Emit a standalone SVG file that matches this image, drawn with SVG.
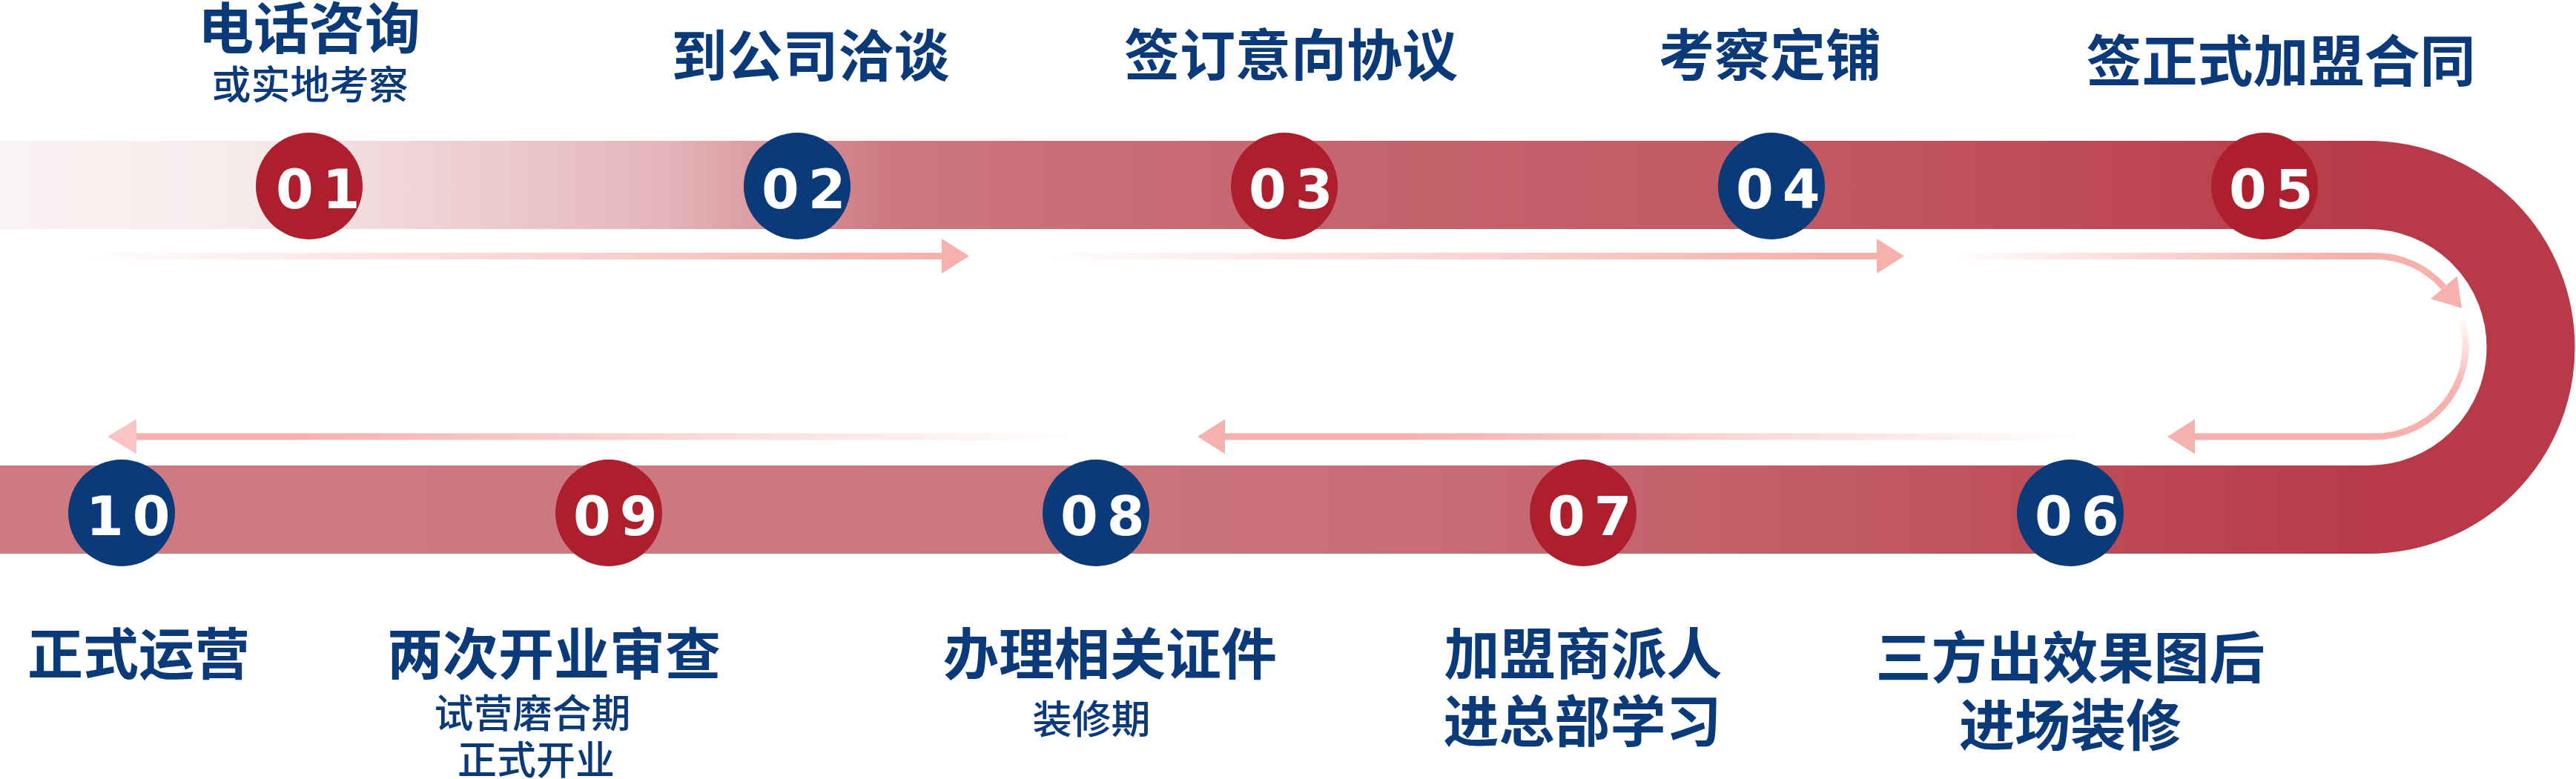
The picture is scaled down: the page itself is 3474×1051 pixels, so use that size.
<svg xmlns="http://www.w3.org/2000/svg" width="3474" height="1051" viewBox="0 0 3474 1051">
<defs>
<style>
.t{font-family:"Noto Sans CJK SC","Noto Sans CJK JP",sans-serif;font-weight:700;font-size:75px;fill:#0a3a7a;text-anchor:middle}
.s{font-family:"Noto Sans CJK SC","Noto Sans CJK JP",sans-serif;font-weight:500;font-size:53px;fill:#0a3a7a;text-anchor:middle}
.n{font-family:"DejaVu Sans",sans-serif;font-weight:700;font-size:73px;fill:#ffffff;letter-spacing:12px}
.red{fill:#ae1f2d}
.blue{fill:#0a3a7a}
.ar{fill:none;stroke-width:9}
</style>
<linearGradient id="bandTop" gradientUnits="userSpaceOnUse" x1="0" y1="0" x2="3200" y2="0">
<stop offset="0" stop-color="#faf3f3"/>
<stop offset="0.1" stop-color="#f7ebec"/>
<stop offset="0.28" stop-color="#e4b5b9"/>
<stop offset="0.375" stop-color="#cd787f"/>
<stop offset="0.45" stop-color="#c96e77"/>
<stop offset="0.6" stop-color="#c4626c"/>
<stop offset="0.75" stop-color="#c15a65"/>
<stop offset="0.9" stop-color="#bc4854"/>
<stop offset="1" stop-color="#b83a48"/>
</linearGradient>
<linearGradient id="bandBot" gradientUnits="userSpaceOnUse" x1="0" y1="0" x2="3200" y2="0">
<stop offset="0" stop-color="#cd7a80"/>
<stop offset="0.42" stop-color="#cc777e"/>
<stop offset="0.6" stop-color="#c86d76"/>
<stop offset="0.78" stop-color="#c15a64"/>
<stop offset="1" stop-color="#b83a48"/>
</linearGradient>
<linearGradient id="a1" gradientUnits="userSpaceOnUse" x1="100" y1="0" x2="1250" y2="0">
<stop offset="0" stop-color="#f7b1ad" stop-opacity="0"/>
<stop offset="1" stop-color="#f7b1ad" stop-opacity="1"/>
</linearGradient>
<linearGradient id="a2" gradientUnits="userSpaceOnUse" x1="1400" y1="0" x2="2450" y2="0">
<stop offset="0" stop-color="#f7b1ad" stop-opacity="0"/>
<stop offset="1" stop-color="#f7b1ad" stop-opacity="1"/>
</linearGradient>
<linearGradient id="a3" gradientUnits="userSpaceOnUse" x1="2630" y1="0" x2="3150" y2="0">
<stop offset="0" stop-color="#f7b1ad" stop-opacity="0"/>
<stop offset="1" stop-color="#f7b1ad" stop-opacity="1"/>
</linearGradient>
<linearGradient id="a4" gradientUnits="userSpaceOnUse" x1="0" y1="427" x2="0" y2="525">
<stop offset="0" stop-color="#f7b1ad" stop-opacity="0"/>
<stop offset="1" stop-color="#f7b1ad" stop-opacity="1"/>
</linearGradient>
<linearGradient id="a5" gradientUnits="userSpaceOnUse" x1="2810" y1="0" x2="1900" y2="0">
<stop offset="0" stop-color="#f7b1ad" stop-opacity="0"/>
<stop offset="1" stop-color="#f7b1ad" stop-opacity="1"/>
</linearGradient>
<linearGradient id="a6" gradientUnits="userSpaceOnUse" x1="1450" y1="0" x2="400" y2="0">
<stop offset="0" stop-color="#f7b1ad" stop-opacity="0"/>
<stop offset="1" stop-color="#f7b1ad" stop-opacity="1"/>
</linearGradient>
<marker id="head" markerUnits="userSpaceOnUse" markerWidth="38" markerHeight="48" refX="0" refY="23.5" orient="auto" overflow="visible">
<path d="M0 0 L37 23.5 L0 47 Z" fill="#f7b1ad"/>
</marker>
<marker id="headPink" markerUnits="userSpaceOnUse" markerWidth="38" markerHeight="48" refX="0" refY="23.5" orient="auto" overflow="visible">
<path d="M0 0 L39 23.5 L0 47 Z" fill="#fcc3c7"/>
</marker>
</defs>
<rect width="3474" height="1051" fill="#ffffff"/>
<g id="band">
<rect x="0" y="190" width="3195" height="119" fill="url(#bandTop)"/>
<path d="M3194 249.5 A219 219 0 0 1 3194 687.5" fill="none" stroke="#b83a48" stroke-width="119"/>
<rect x="0" y="628" width="3195" height="119" fill="url(#bandBot)"/>
</g>
<g id="connectors">
<path class="ar" d="M100 345.5 H1270" stroke="url(#a1)" marker-end="url(#head)"/>
<path class="ar" d="M1400 345.5 H2531" stroke="url(#a2)" marker-end="url(#head)"/>
<path class="ar" d="M2630 345.5 H3203 A122 122 0 0 1 3295.8 387.8" stroke="url(#a3)" marker-end="url(#head)"/>
<path class="ar" d="M3318.4 427.3 A122 122 0 0 1 3203 589 H2960" stroke="url(#a4)" marker-end="url(#head)"/>
<path class="ar" d="M2810 589 H1652" stroke="url(#a5)" marker-end="url(#head)"/>
<path class="ar" d="M1450 589 H184" stroke="url(#a6)" marker-end="url(#headPink)"/>
</g>
<g id="step01">
<circle class="red" cx="417" cy="251" r="72"/>
<text class="n" x="372" y="281">01</text>
<text class="t" x="417" y="66">电话咨询</text>
<text class="s" x="418" y="134">或实地考察</text>
</g>
<g id="step02">
<circle class="blue" cx="1075" cy="251" r="72"/>
<text class="n" x="1027" y="281">02</text>
<text class="t" x="1093" y="103">到公司洽谈</text>
</g>
<g id="step03">
<circle class="red" cx="1732" cy="251" r="72"/>
<text class="n" x="1684" y="281">03</text>
<text class="t" x="1741" y="102">签订意向协议</text>
</g>
<g id="step04">
<circle class="blue" cx="2389" cy="251" r="72"/>
<text class="n" x="2341" y="281">04</text>
<text class="t" x="2387" y="102">考察定铺</text>
</g>
<g id="step05">
<circle class="red" cx="3054" cy="251" r="72"/>
<text class="n" x="3006" y="281">05</text>
<text class="t" x="3076" y="110">签正式加盟合同</text>
</g>
<g id="step06">
<circle class="blue" cx="2792" cy="692" r="72"/>
<text class="n" x="2744" y="722">06</text>
<text class="t" x="2792" y="915">三方出效果图后</text>
<text class="t" x="2792" y="1006">进场装修</text>
</g>
<g id="step07">
<circle class="red" cx="2135" cy="692" r="72"/>
<text class="n" x="2087" y="722">07</text>
<text class="t" x="2135" y="910">加盟商派人</text>
<text class="t" x="2134" y="1001">进总部学习</text>
</g>
<g id="step08">
<circle class="blue" cx="1478" cy="692" r="72"/>
<text class="n" x="1430" y="722">08</text>
<text class="t" x="1497" y="910">办理相关证件</text>
<text class="s" x="1472" y="990">装修期</text>
</g>
<g id="step09">
<circle class="red" cx="821" cy="692" r="72"/>
<text class="n" x="773" y="722">09</text>
<text class="t" x="747" y="910">两次开业审查</text>
<text class="s" x="718" y="982">试营磨合期</text>
<text class="s" x="723" y="1045">正式开业</text>
</g>
<g id="step10">
<circle class="blue" cx="164" cy="692" r="72"/>
<text class="n" x="116" y="722">10</text>
<text class="t" x="187" y="910">正式运营</text>
</g>
</svg>
